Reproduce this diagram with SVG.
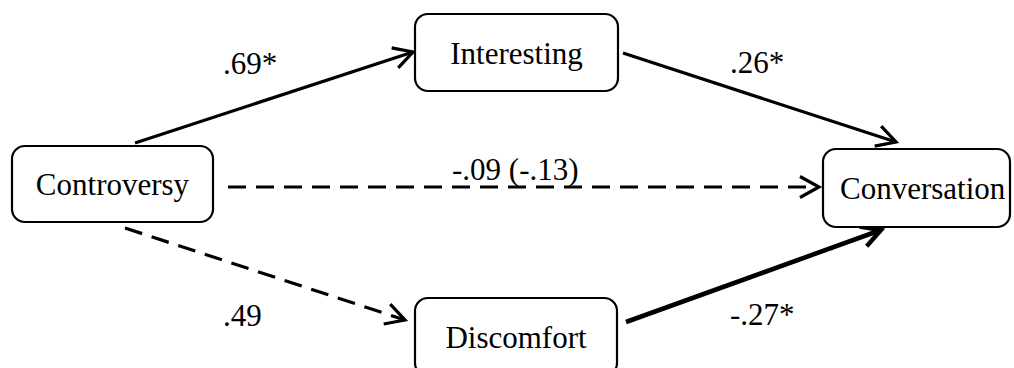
<svg xmlns="http://www.w3.org/2000/svg" width="1014" height="368" viewBox="0 0 1014 368">
<style>
.box{fill:#fff;stroke:#000;stroke-width:2.2}
.t{font-family:'Liberation Serif','Times New Roman',serif;font-size:31px;fill:#000}
.e{fill:none;stroke:#000;stroke-width:3.2}
.thick{stroke-width:4.6}
.dash{stroke-dasharray:18 10}
</style>
<defs>
<marker id="a" markerUnits="userSpaceOnUse" markerWidth="26" markerHeight="28" refX="21" refY="13" orient="auto" overflow="visible">
<path d="M2,2.5 L21,13 L2,23.5" fill="none" stroke="#000" stroke-width="3.2" stroke-dasharray="none" stroke-linejoin="miter"/>
</marker>
<marker id="b" markerUnits="userSpaceOnUse" markerWidth="26" markerHeight="28" refX="21" refY="13" orient="auto" overflow="visible">
<path d="M2,2.5 L21,13 L2,23.5" fill="none" stroke="#000" stroke-width="4.4" stroke-dasharray="none" stroke-linejoin="miter"/>
</marker>
</defs>
<g id="edges">
<line class="e" x1="135" y1="143" x2="413" y2="52" marker-end="url(#a)"/>
<line class="e" x1="623" y1="53" x2="896" y2="142" marker-end="url(#a)"/>
<line class="e dash" x1="228" y1="187" x2="819" y2="187" marker-end="url(#a)"/>
<line class="e dash" x1="125" y1="228" x2="405" y2="320" marker-end="url(#a)"/>
<line class="e thick" x1="626" y1="322" x2="881" y2="230" marker-end="url(#b)"/>
</g>
<g id="labels">
<text class="t" x="223" y="74">.69*</text>
<text class="t" x="730" y="73">.26*</text>
<text class="t" x="452" y="180">-.09 (-.13)</text>
<text class="t" x="223" y="326">.49</text>
<text class="t" x="730" y="325">-.27*</text>
</g>
<g id="controversy">
<rect class="box" x="12" y="146" width="201" height="76" rx="13"/>
<text class="t" x="112.5" y="195" text-anchor="middle">Controversy</text>
</g>
<g id="interesting">
<rect class="box" x="415" y="14" width="203" height="77" rx="13"/>
<text class="t" x="516.5" y="64" text-anchor="middle">Interesting</text>
</g>
<g id="conversation">
<rect class="box" x="823" y="149" width="187" height="78" rx="13"/>
<text class="t" x="840" y="199">Conversation</text>
</g>
<g id="discomfort">
<rect class="box" x="415" y="298" width="202" height="78" rx="13"/>
<text class="t" x="516" y="348" text-anchor="middle">Discomfort</text>
</g>
</svg>
